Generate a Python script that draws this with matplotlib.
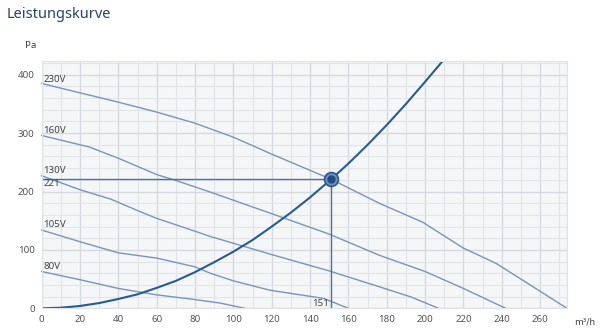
import matplotlib.pyplot as plt
from matplotlib.ticker import MultipleLocator

plt.rcParams["font.family"] = ["Noto Sans", "DejaVu Sans"]

# fan curves (m3/h, Pa)
v230_x = [0, 20, 40, 60, 80, 100, 120, 151, 176, 199, 209, 220, 237, 274]
v230_y = [385, 369, 353, 336, 317, 293, 264, 221, 180, 147, 126, 103, 77, 0]
v160_x = [0, 25, 40, 60, 69, 88, 120, 150, 176, 200, 220, 242]
v160_y = [296, 276, 257, 229, 220, 199, 162, 127, 91, 63, 34, 0]
v130_x = [0, 10, 20, 36, 51, 60, 80, 88, 120, 150, 176, 193, 207]
v130_y = [227, 215, 203, 187, 166, 154, 132, 123, 92, 64, 37, 19, 0]
v105_x = [0, 20, 40, 60, 80, 88, 100, 119, 147, 160]
v105_y = [134, 114, 95, 86, 71, 60, 47, 31, 17, 0]
v80_x = [0, 20, 40, 60, 80, 93, 106]
v80_y = [63, 49, 34, 23, 15, 9, 0]
fan_labels = ["230V", "160V", "130V", "105V", "80V"]
label_y = [392, 304, 236, 143, 71]

# system curve
sys_x = [0, 10, 20, 30, 40, 50, 60, 70, 80, 90, 100, 110, 120, 130, 140,
         151, 160, 170, 180, 190, 200, 209]
sys_y = [0, 1, 4, 9, 16, 24, 35, 47, 62, 79, 97, 117, 140, 164, 190,
         221, 248, 280, 314, 350, 388, 423]

op_x, op_y = 151, 221

fig = plt.figure(figsize=(6, 3.36), dpi=100)
fig.patch.set_facecolor("white")
ax = fig.add_axes([0.0695, 0.0824, 0.8755, 0.7369])
ax.set_facecolor("#f4f6f8")
ax.set_xlim(0, 274)
ax.set_ylim(0, 424)

ax.xaxis.set_major_locator(MultipleLocator(20))
ax.xaxis.set_minor_locator(MultipleLocator(10))
ax.yaxis.set_major_locator(MultipleLocator(100))
ax.yaxis.set_minor_locator(MultipleLocator(20))
ax.grid(which="major", color="#d6d9dd", lw=1.0)
ax.grid(which="minor", color="#e2e4e8", lw=0.8)
ax.set_axisbelow(True)
for s in ax.spines.values():
    s.set_color("#e0e2e6")
    s.set_linewidth(0.8)
ax.tick_params(which="both", length=0, labelsize=7, labelcolor="#555555", pad=5)

fan = [(v230_x, v230_y), (v160_x, v160_y), (v130_x, v130_y),
       (v105_x, v105_y), (v80_x, v80_y)]
for (xs, ys), lab, ly in zip(fan, fan_labels, label_y):
    ax.plot(xs, ys, color="#7895ba", lw=1.0, clip_on=False)
    ax.text(1, ly, lab, fontsize=7, color="#444444", va="center", ha="left")

ax.plot(sys_x, sys_y, color="#2b5a90", lw=1.5)

ax.plot([0, op_x], [op_y, op_y], color="#4a72a0", lw=1.0)
ax.plot([op_x, op_x], [0, op_y], color="#4a72a0", lw=1.0)
ax.plot(op_x, op_y, "o", ms=10, mfc="#6f8fb8", mec="#2b5a90", mew=1.2, zorder=5)
ax.plot(op_x, op_y, "o", ms=5, mfc="#1f4e85", mec="#1f4e85", zorder=6)
ax.text(1, 213, str(op_y), fontsize=7, color="#444444", va="center", ha="left")
ax.text(150, 9, str(op_x), fontsize=7, color="#444444", va="center", ha="right")

fig.text(7 / 600, 1 - 15 / 336, "Leistungskurve", fontsize=10.5, color="#24436c",
         fontweight="semibold", va="center", ha="left")
fig.text(31 / 600, 1 - 46 / 336, "Pa", fontsize=7, color="#444444",
         va="center", ha="center")
fig.text(585 / 600, 1 - 322 / 336, "m³/h", fontsize=6.5, color="#444444",
         family="DejaVu Sans", va="center", ha="center")

plt.savefig("out.png", dpi=100)
plt.close()
